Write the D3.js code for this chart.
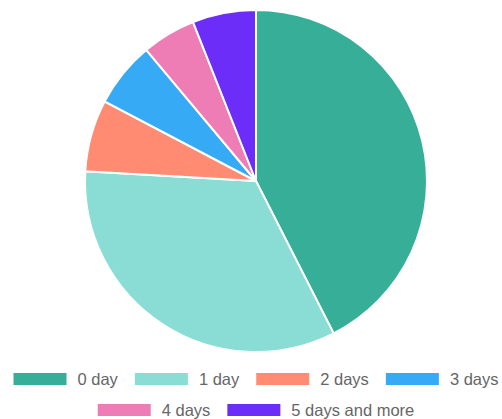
<!DOCTYPE html>
<html lang="en">
<head>
<meta charset="UTF-8">
<title>Days pie</title>
<script src="https://cdn.jsdelivr.net/npm/d3@7"></script>
<style>
body { margin: 0; background: #fff; font-family: Arial, "Liberation Sans", sans-serif; }
svg { display: block; }
</style>
</head>
<body>
<svg id="chart" width="502" height="419"></svg>
<script>
// data (share of slices, %)
const categories = ["0 day", "1 day", "2 days", "3 days", "4 days", "5 days and more"];
const values = [42.5, 33.4, 6.8, 6.2, 5.1, 6.0];
const colors = ["#36AE98", "#8ADDD4", "#FF8B73", "#36AAF5", "#EE7DB5", "#6B2DF7"];

const W = 502, H = 419;
const cx = 256, cy = 181, radius = 171;

const svg = d3.select("#chart");

const pie = d3.pie().sort(null).value(d => d.value);
const arc = d3.arc().innerRadius(0).outerRadius(radius);
const data = categories.map((c, i) => ({ name: c, value: values[i], color: colors[i] }));

svg.append("g")
    .attr("transform", `translate(${cx},${cy})`)
    .selectAll("path")
    .data(pie(data))
    .join("path")
    .attr("d", arc)
    .attr("fill", d => d.data.color)
    .attr("stroke", "#fff")
    .attr("stroke-width", 2);

// legend, centered rows like chart.js
const boxW = 53, boxH = 12, textGap = 11, itemGap = 17, fontSize = 16.5;
const rowY = [379, 410];
const legend = svg.append("g").attr("font-size", fontSize).attr("fill", "#666");

// measure text widths
const widths = categories.map(c => {
    const t = legend.append("text").text(c);
    const w = t.node().getComputedTextLength();
    t.remove();
    return w;
});

const rows = [[]];
let used = 0;
categories.forEach((c, i) => {
    const w = boxW + textGap + widths[i];
    if (rows[rows.length - 1].length && used + itemGap + w > W - 10) {
        rows.push([]);
        used = 0;
    }
    used += (rows[rows.length - 1].length ? itemGap : 0) + w;
    rows[rows.length - 1].push(i);
});

rows.forEach((row, r) => {
    const total = d3.sum(row, i => boxW + textGap + widths[i]) + itemGap * (row.length - 1);
    let x = cx - total / 2;
    row.forEach(i => {
        legend.append("rect")
            .attr("x", x).attr("y", rowY[r] - boxH / 2)
            .attr("width", boxW).attr("height", boxH)
            .attr("fill", colors[i]);
        legend.append("text")
            .attr("x", x + boxW + textGap).attr("y", rowY[r])
            .attr("dy", "0.35em")
            .text(categories[i]);
        x += boxW + textGap + widths[i] + itemGap;
    });
});
</script>
</body>
</html>
